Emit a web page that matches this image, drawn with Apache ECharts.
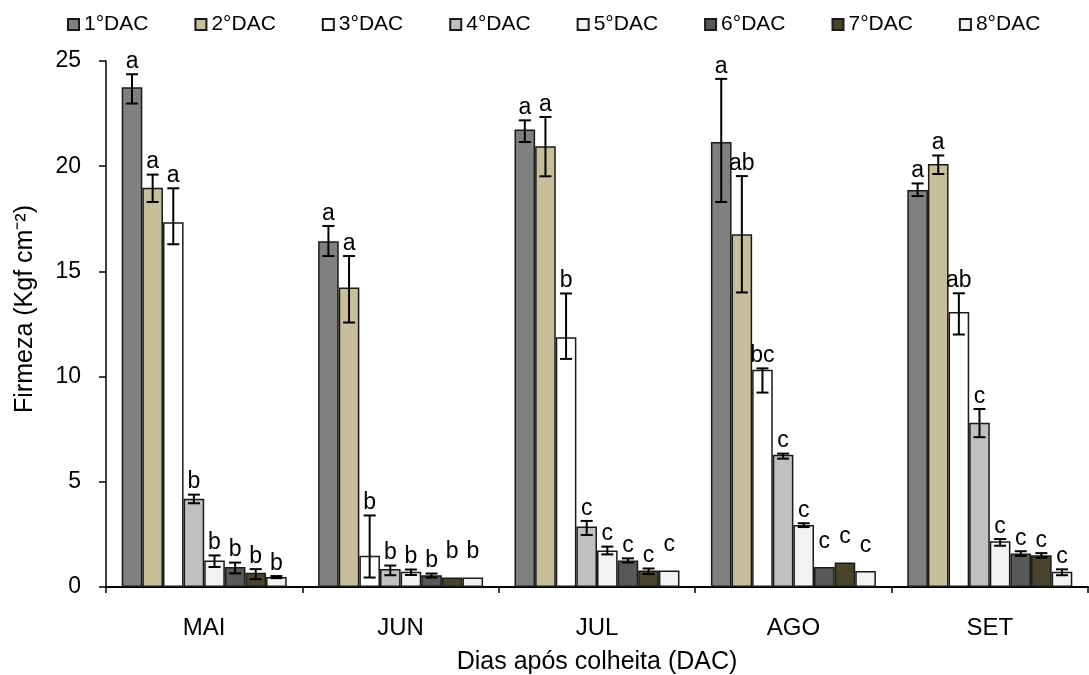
<!DOCTYPE html>
<html>
<head>
<meta charset="utf-8">
<script src="https://cdn.jsdelivr.net/npm/echarts@6/dist/echarts.min.js"></script>
<style>
  html, body { margin: 0; padding: 0; background: #fff; }
  #chart { width: 1089px; height: 675px; }
</style>
</head>
<body>
<div id="chart"></div>
<script>
// meses de avaliacao
var categories = ['MAI', 'JUN', 'JUL', 'AGO', 'SET'];
var seriesNames = ['1°DAC', '2°DAC', '3°DAC', '4°DAC', '5°DAC', '6°DAC', '7°DAC', '8°DAC'];
var colors = ['#808080', '#c7be9a', '#ffffff', '#c0c0c0', '#f2f2f2', '#595959', '#4a432b', '#f2f2f2'];

// firmeza media, uma linha por DAC (MAI..SET)
var mean = [
  [23.75, 16.43, 21.74, 21.15, 18.87],
  [18.97, 14.23, 20.95, 16.76, 20.11],
  [17.34, 1.48, 11.87, 10.32, 13.07],
  [4.19, 0.85, 2.87, 6.29, 7.81],
  [1.26, 0.73, 1.74, 2.95, 2.17],
  [0.95, 0.56, 1.26, 0.95, 1.59],
  [0.68, 0.45, 0.78, 1.16, 1.51],
  [0.47, 0.45, 0.78, 0.76, 0.73]
];

// barras de erro (acima / abaixo da media)
var errUp = [
  [0.62, 0.73, 0.44, 3.0, 0.31],
  [0.63, 1.5, 1.39, 2.77, 0.4],
  [1.61, 1.92, 2.08, 0.07, 0.89],
  [0.2, 0.17, 0.27, 0.05, 0.65],
  [0.24, 0.1, 0.18, 0.08, 0.11],
  [0.21, 0.08, 0.1, 0, 0.11],
  [0.17, 0, 0.1, 0, 0.1],
  [0.05, 0, 0, 0, 0.11]
];
var errDown = [
  [0.77, 0.7, 0.59, 2.85, 0.29],
  [0.67, 1.66, 1.43, 2.76, 0.48],
  [1.05, 1.03, 1.03, 1.08, 1.07],
  [0.21, 0.29, 0.4, 0.19, 0.69],
  [0.31, 0.16, 0.19, 0.1, 0.21],
  [0.3, 0.11, 0.1, 0, 0.11],
  [0.31, 0, 0.16, 0, 0.12],
  [0.05, 0, 0, 0, 0.17]
];

// letras do teste de medias
var letters = [
  ['a', 'a', 'a', 'a', 'a'],
  ['a', 'a', 'a', 'ab', 'a'],
  ['a', 'b', 'b', 'bc', 'ab'],
  ['b', 'b', 'c', 'c', 'c'],
  ['b', 'b', 'c', 'c', 'c'],
  ['b', 'b', 'c', 'c', 'c'],
  ['b', 'b', 'c', 'c', 'c'],
  ['b', 'b', 'c', 'c', 'c']
];

var FONT = '"Liberation Sans", Arial, sans-serif';
var CAT_GAP = 0.16;
var N = seriesNames.length;

function errorRenderer(k) {
  return function (params, api) {
    var cat = api.value(0);
    var m = api.value(1);
    var up = api.value(2);
    var down = api.value(3);
    var band = api.size([1, 0])[0];
    var bw = band * (1 - CAT_GAP) / N;
    var center = api.coord([cat, 0])[0];
    var x = center - band * (1 - CAT_GAP) / 2 + (k + 0.5) * bw;
    var yTop = api.coord([cat, m + up])[1];
    var yBot = api.coord([cat, m - down])[1];
    var children = [];
    if (up > 0 || down > 0) {
      var st = { stroke: '#000', lineWidth: 2 };
      children.push({ type: 'line', shape: { x1: x, y1: yTop, x2: x, y2: yBot }, style: st });
      children.push({ type: 'line', shape: { x1: x - 6, y1: yTop, x2: x + 6, y2: yTop }, style: st });
      children.push({ type: 'line', shape: { x1: x - 6, y1: yBot, x2: x + 6, y2: yBot }, style: st });
    }
    var gap = (up > 0) ? 1 : 14;
    children.push({
      type: 'text',
      x: x,
      y: yTop - gap,
      style: {
        text: letters[k][cat],
        fill: '#000',
        font: '23px ' + FONT,
        align: 'center',
        verticalAlign: 'bottom'
      }
    });
    return { type: 'group', children: children };
  };
}

var series = [];
for (var k = 0; k < N; k++) {
  series.push({
    name: seriesNames[k],
    type: 'bar',
    data: mean[k],
    barGap: '0%',
    barCategoryGap: (CAT_GAP * 100) + '%',
    itemStyle: { color: colors[k], borderColor: '#1a1a1a', borderWidth: 1.5 }
  });
}
for (var k = 0; k < N; k++) {
  var d = [];
  for (var c = 0; c < categories.length; c++) {
    d.push([c, mean[k][c], errUp[k][c], errDown[k][c]]);
  }
  series.push({
    type: 'custom',
    renderItem: errorRenderer(k),
    data: d,
    z: 10,
    silent: true
  });
}

var chart = echarts.init(document.getElementById('chart'));
chart.setOption({
  animation: false,
  backgroundColor: '#fff',
  textStyle: { fontFamily: FONT, color: '#000' },
  legend: {
    data: seriesNames,
    top: 9,
    left: 62,
    icon: 'rect',
    itemWidth: 11,
    itemHeight: 11,
    itemGap: 46,
    textStyle: { fontSize: 21, color: '#000', fontFamily: FONT }
  },
  grid: { left: 106, right: 1, top: 61, bottom: 88, containLabel: false, outerBoundsMode: 'none' },
  xAxis: {
    type: 'category',
    data: categories,
    name: 'Dias após colheita (DAC)',
    nameLocation: 'middle',
    nameGap: 63,
    nameTextStyle: { fontSize: 25, color: '#000' },
    axisLine: { lineStyle: { color: '#000', width: 2 } },
    axisTick: { show: true, length: 6, lineStyle: { color: '#000', width: 1.5 } },
    axisLabel: { fontSize: 24, color: '#000', margin: 29 }
  },
  yAxis: {
    type: 'value',
    min: 0,
    max: 25,
    interval: 5,
    name: 'Firmeza (Kgf cm⁻²)',
    nameLocation: 'middle',
    nameGap: 68,
    nameTextStyle: { fontSize: 25, color: '#000', padding: [0, 0, 0, 30] },
    axisLine: { show: true, lineStyle: { color: '#000', width: 1.5 } },
    axisTick: { show: true, length: 7, lineStyle: { color: '#000', width: 1.5 } },
    axisLabel: { fontSize: 23, color: '#000', margin: 25 },
    splitLine: { show: false }
  },
  series: series
});
</script>
</body>
</html>
